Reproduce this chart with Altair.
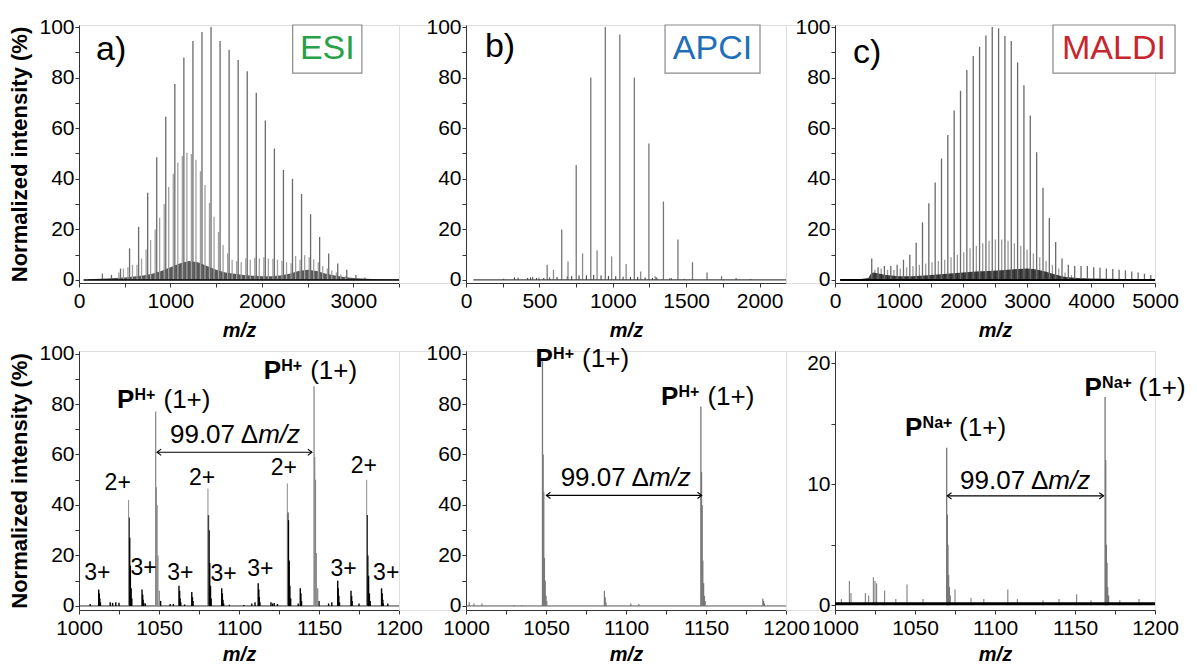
import altair as alt
import pandas as pd

FONT = "Liberation Sans"

# ---------------- top row data (m/z, normalized intensity %) ----------------
a_main_mz = [256, 355, 454, 553, 652, 751, 850, 949, 1048, 1147, 1246, 1345, 1444, 1543, 1642,
             1741, 1840, 1939, 2038, 2137, 2236, 2335, 2434, 2533, 2632, 2731, 2830, 2929, 3028, 3127]
a_main_int = [2.5, 2, 4.5, 12.5, 21, 34.5, 48.5, 64.5, 77.5, 88, 94.5, 98, 100, 94.5, 91,
              87, 82.5, 74, 63, 52, 43.5, 40, 34, 26, 17, 10.5, 6.5, 4, 2, 1]
a_sec_mz = [436, 486, 535, 585, 634, 684, 734, 783, 833, 882, 932, 981, 1031, 1081, 1130, 1180, 1229,
            1279, 1328, 1378, 1427, 1477, 1526, 1576, 1626, 1675, 1725, 1774, 1824, 1873, 1923, 1972,
            2022, 2071, 2121, 2171, 2220, 2270, 2319, 2369, 2418, 2468, 2518, 2567, 2617, 2666, 2716,
            2765, 2815, 2864, 2914]
a_sec_int = [3, 4.5, 5, 6, 6, 8.5, 12, 15.8, 20, 24.6, 30, 36.8, 42, 46.4, 49, 50.3, 49.8,
             47.5, 43, 37.5, 30.5, 25, 19, 13.8, 10.5, 8, 7.5, 7, 8.6, 8, 8.8, 8.5,
             9, 8.5, 8.4, 8, 7.5, 7, 6.6, 9.5, 8, 9.8, 9, 8.2, 7, 5.5, 4.5,
             3.7, 3, 2.2, 1.5]
a_band_mz = [100, 300, 500, 700, 800, 900, 1000, 1100, 1200, 1300, 1400, 1500, 1600, 1700, 1800,
             1900, 2000, 2100, 2200, 2300, 2400, 2500, 2600, 2700, 2800, 2900, 3000, 3200, 3500]
a_band_int = [0.3, 0.6, 1, 1.8, 2.5, 3.5, 5, 6.5, 7.5, 7, 5.5, 4, 3, 2.5, 2,
              1.7, 1.5, 1.5, 1.8, 2.5, 3.5, 4, 3.5, 2.5, 1.8, 1.2, 0.8, 0.4, 0.2]

b_main_mz = [256, 355, 454, 553, 652, 751, 850, 949, 1048, 1147, 1246, 1345, 1444, 1543, 1642, 1741, 1840, 1939]
b_main_int = [0.5, 1, 1.2, 6, 20, 45.5, 80, 100, 97, 80, 54, 31, 16, 7, 3, 1.5, 0.8, 0.4]
b_sec_mz = [497, 596, 695, 794, 893, 992, 1091, 1190, 1289, 1388, 1487]
b_sec_int = [1, 4, 7.3, 10.5, 11.7, 9.3, 6.3, 3.3, 1.5, 0.8, 0.5]
b_minor_mz = [330, 420, 440, 480, 530, 570, 620, 690, 720, 770, 820, 870, 920, 970, 1020, 1070,
              1120, 1170, 1220, 1270, 1300, 1400]
b_minor_int = [1, 0.8, 1, 0.8, 0.8, 1, 1.2, 1.5, 1.5, 1.8, 1.8, 2, 1.8, 1.6, 1.5, 1.3,
               1.2, 1.2, 1, 0.8, 1, 0.6]

c_main_mz = [574, 673, 772, 872, 971, 1070, 1169, 1268, 1367, 1466, 1565, 1664, 1763, 1862, 1961,
             2060, 2160, 2259, 2358, 2457, 2556, 2655, 2754, 2853, 2952, 3051, 3151, 3250, 3349, 3448,
             3547, 3646, 3745, 3844, 3943, 4042, 4141, 4240, 4340, 4439, 4538, 4637, 4736, 4835, 4934]
c_main_int = [8.5, 5, 5.5, 5.5, 6, 8, 10, 14.7, 22.8, 30.3, 38.5, 48, 57.3, 67, 74.8,
              83, 88.5, 92.2, 96.6, 100, 99.5, 96.5, 94.5, 86, 77, 65, 50.5, 36.5, 24.5, 15,
              8.5, 6, 5.5, 5.5, 5.5, 5, 4.8, 4.5, 4.3, 4, 3.8, 3.3, 3, 2.5, 2]
c_sec_mz = [623, 722, 821, 921, 1020, 1119, 1218, 1318, 1417, 1516, 1615, 1714, 1813, 1912, 2011,
            2110, 2209, 2308, 2407, 2506, 2605, 2704, 2803, 2902, 3001, 3100, 3199, 3298, 3397, 3496,
            3595, 3695]
c_sec_int = [4, 4.5, 4, 4, 4.5, 5, 5.5, 6, 6.5, 7, 7.5, 8, 9, 10, 11,
             12.5, 13.5, 14.5, 15.5, 16, 16, 15.5, 14.5, 13.5, 12, 10.5, 9, 7.5, 6, 4.5,
             3, 2]
c_band_mz = [80, 400, 520, 560, 600, 700, 800, 1000, 1200, 1400, 1600, 1800, 2000, 2200, 2400,
             2600, 2800, 3000, 3100, 3200, 3300, 3400, 3500, 3600, 3800, 4000, 4500, 5000]
c_band_int = [0.3, 0.4, 0.8, 2.5, 3, 2.5, 2, 1.5, 1.5, 1.8, 2.2, 2.6, 3, 3.3, 3.5,
              3.8, 4.2, 4.5, 4.3, 3.8, 3.2, 2.5, 1.8, 1.2, 0.8, 0.6, 0.4, 0.3]

# ---------------- bottom row data (zoom 1000-1200) ----------------
d_gray_mz = [1047.9, 1048.3, 1048.8, 1049.3, 1050.2, 1146.9, 1147.3, 1147.8, 1148.3, 1149.2]
d_gray_int = [77, 47, 40, 20, 6, 87, 59, 50, 21, 7]
d_tip_mz = [1031.0, 1080.6, 1130.2, 1179.8]
d_tip_int = [42, 46.5, 48.5, 50]
d_body_mz = [1007, 1012.3, 1012.7, 1013.0, 1013.4, 1019.5, 1021, 1023, 1025,
             1031.3, 1031.7, 1032.1, 1032.6, 1033, 1039.4, 1039.8, 1040.1, 1040.5, 1041.5,
             1051, 1057, 1059, 1062.5, 1062.9, 1063.2, 1063.6, 1066, 1070.5, 1070.9, 1071.3,
             1080.9, 1081.3, 1081.7, 1082.2, 1082.6, 1089.2, 1089.6, 1090, 1090.4, 1094, 1103,
             1108, 1110, 1112, 1112.4, 1112.7, 1113.1, 1120, 1121, 1122, 1124,
             1130.5, 1130.9, 1131.4, 1131.8, 1132.3, 1137, 1138.3, 1138.7, 1139.1, 1150,
             1156, 1158, 1161.7, 1162, 1162.4, 1162.8, 1170, 1170.4, 1170.7, 1175,
             1180.1, 1180.5, 1181, 1181.5, 1182, 1189.1, 1189.5, 1189.9, 1190.2, 1193]
d_body_int = [0.8, 6.5, 5, 3, 1.5, 1.5, 1.2, 1.5, 1.3,
              35, 27, 16, 7, 3, 6.5, 4.5, 2.5, 1.2, 1,
              2, 0.8, 0.8, 8, 6, 3, 1.5, 0.6, 5.5, 3.5, 2,
              36, 30, 17, 8, 3, 7, 5, 2.5, 1, 0.5, 0.4,
              1, 1.5, 9, 6.5, 3.5, 1.5, 1.5, 1, 1.2, 0.8,
              37, 34, 18, 8, 3, 1, 7, 5, 2, 2,
              1, 1.5, 10, 7, 4, 1.5, 6, 4, 2, 1,
              36, 20, 12, 5, 2, 7, 5, 2.5, 1, 1]

e_gray_mz = [1047.8, 1048.2, 1048.6, 1049.0, 1049.5, 1050.0, 1146.8, 1147.2, 1147.6, 1148.0, 1148.5, 1149.0]
e_gray_int = [97, 60, 45, 19, 10, 4, 79, 53, 40, 18, 9, 4]
e_small_mz = [1002, 1005, 1010, 1030, 1035, 1050.5, 1086.5, 1087, 1087.5, 1103, 1108, 1149.5, 1185.5, 1186, 1186.5]
e_small_int = [1.5, 1, 1, 0.4, 0.3, 2, 6, 3.5, 1.5, 1, 0.8, 2, 3, 2, 1]

f_gray_mz = [1069.8, 1070.2, 1070.6, 1071.0, 1071.5, 1072.0, 1168.8, 1169.2, 1169.6, 1170.0, 1170.4, 1171.0]
f_gray_int = [13, 7.5, 5, 2.5, 1.5, 0.8, 17.2, 12, 5, 3.5, 1.5, 0.8]
f_small_mz = [1004, 1009, 1010, 1019, 1021, 1024, 1025, 1026, 1031, 1038, 1045, 1055, 1075, 1085, 1093,
              1108, 1114, 1130, 1140, 1151, 1160, 1178, 1190]
f_small_int = [0.5, 2, 1, 1, 0.8, 2.3, 2, 1.8, 1.2, 0.5, 1.7, 0.5, 1.3, 0.6, 0.5,
               1.3, 0.5, 0.4, 0.5, 0.9, 0.4, 0.4, 0.5]

# ---------------- annotations (data coordinates) ----------------
panel_tags = ["a)", "b)", "c)"]
tag_pos = [(187, 87), (129, 88), (281, 85.8)]
techniques = ["ESI", "APCI", "MALDI"]
tech_colors = ["#27a048", "#1f6fb8", "#c8262d"]
box_x = [(2337, 3094), (1356, 2003), (3406, 5313)]
box_y = (81.8, 100.8)
box_text_pos = [(2716, 91.3), (1679, 91.3), (4359, 91.3)]

d_p_labels = [(1023.75, 78.3), (1115.4, 90.0)]
e_p_labels = [(1043.5, 94.8), (1121.8, 79.6)]
f_p_labels = [(1043.8, 13.97), (1156.0, 17.26)]
d_arrow = (1048.75, 1145.6, 60.9)
e_arrow = (1050.2, 1147.3, 43.8)
f_arrow = (1070.2, 1167.8, 9.03)
d_delta = (1112.0, 64.4)
e_delta = (1114.3, 47.5)
f_delta = (1133.3, 9.57)
d_two_plus = [(1024.2, 46), (1076.9, 48), (1128, 51.9), (1178, 52.6)]
d_three_plus = [(1011.5, 10.4), (1040.4, 12.4), (1063.3, 10.4), (1090.4, 9.8), (1113.3, 11.7),
                (1165.4, 11.7), (1192, 10.4)]

TOP_H = 258
BOT_H = 259
W = 320


def build_panel(xdom, ydom, xvals, xmod, yvals, ymod, ytitle, xtitle_pad):
    xaxis = alt.Axis(values=xvals, format="d",
                     labelExpr=f"datum.value % {xmod} === 0 ? datum.label : ''",
                     title="m/z", titleFont=FONT, titleFontStyle="italic", titleFontWeight="bold",
                     titleFontSize=20, titleColor="black", titlePadding=xtitle_pad,
                     labelFont=FONT, labelFontSize=21, labelColor="black", labelPadding=3,
                     labelFlush=False, labelOverlap=False, tickSize=4, tickColor="#333",
                     domainColor="#333", grid=False)
    yaxis = alt.Axis(values=yvals, format="d",
                     labelExpr=f"datum.value % {ymod} === 0 ? datum.label : ''",
                     title=ytitle if ytitle else None, titleFont=FONT, titleFontWeight="bold",
                     titleFontSize=22, titleColor="black", titlePadding=7,
                     labelFont=FONT, labelFontSize=21, labelColor="black", labelPadding=1,
                     labelOverlap=False, tickSize=4, tickColor="#333", domainColor="#333", grid=False)
    xs = alt.Scale(domain=list(xdom), nice=False, zero=False)
    ys = alt.Scale(domain=list(ydom), nice=False, zero=False)

    def X(f="mz"):
        return alt.X(f"{f}:Q", scale=xs, axis=xaxis)

    def Y(f="I"):
        return alt.Y(f"{f}:Q", scale=ys, axis=yaxis)

    layers = []

    def sticks(mz, inten, color, width, opacity=1.0):
        assert len(mz) == len(inten)
        df = pd.DataFrame({"mz": mz, "I": inten})
        layers.append(alt.Chart(df).mark_rule(color=color, strokeWidth=width, opacity=opacity)
                      .encode(x=X(), y=Y(), y2=alt.datum(0)))

    def band(mz, inten, color, opacity):
        assert len(mz) == len(inten)
        df = pd.DataFrame({"mz": mz, "I": inten})
        layers.append(alt.Chart(df).mark_area(color=color, opacity=opacity, interpolate="linear")
                      .encode(x=X(), y=Y(), y2=alt.datum(0)))

    def baseline(x1, x2, color, width, level=0.0):
        df = pd.DataFrame({"mz": [x1], "mz2": [x2], "I": [level]})
        layers.append(alt.Chart(df).mark_rule(color=color, strokeWidth=width)
                      .encode(x=X(), x2="mz2:Q", y=Y()))

    def text(rows, size, align="left", baseline_="alphabetic", weight="normal", style="normal",
             color="black", dx=0, dy=0):
        df = pd.DataFrame({"mz": [r[0] for r in rows], "I": [r[1] for r in rows],
                           "t": [r[2] for r in rows]})
        layers.append(alt.Chart(df).mark_text(font=FONT, fontSize=size, align=align,
                                              baseline=baseline_, fontWeight=weight,
                                              fontStyle=style, color=color, dx=dx, dy=dy)
                      .encode(x=X(), y=Y(), text="t:N"))

    def box(x1, x2, y1, y2):
        df = pd.DataFrame({"mz": [x1], "mz2": [x2], "I": [y1], "I2": [y2]})
        layers.append(alt.Chart(df).mark_rect(fill="white", stroke="#8a8a8a", strokeWidth=1.2)
                      .encode(x=X(), x2="mz2:Q", y=Y(), y2="I2:Q"))

    def arrow(x1, x2, lvl):
        df = pd.DataFrame({"mz": [x1], "mz2": [x2], "I": [lvl]})
        layers.append(alt.Chart(df).mark_rule(color="black", strokeWidth=1.1)
                      .encode(x=X(), x2="mz2:Q", y=Y()))
        r = pd.DataFrame({"mz": [x2], "I": [lvl]})
        l = pd.DataFrame({"mz": [x1], "I": [lvl]})
        layers.append(alt.Chart(r).mark_point(shape="M-1,-0.75L0,0L-1,0.75", filled=False,
                                              size=70, color="black", strokeWidth=1.1, opacity=1)
                      .encode(x=X(), y=Y()))
        layers.append(alt.Chart(l).mark_point(shape="M1,-0.75L0,0L1,0.75", filled=False,
                                              size=70, color="black", strokeWidth=1.1, opacity=1)
                      .encode(x=X(), y=Y()))

    def p_label(rows, sup):
        text([(r[0], r[1], "P") for r in rows], 26, weight="bold")
        text([(r[0], r[1], sup) for r in rows], 16, weight="bold", dx=17.5, dy=-8)
        off = 46.5 if sup == "H+" else 54
        text([(r[0], r[1], "(1+)") for r in rows], 26, dx=off)

    def delta(pos):
        text([(pos[0], pos[1], "99.07 \u0394")], 26, align="right")
        text([(pos[0], pos[1], "m/z")], 26, align="left", style="italic")

    return layers, sticks, band, baseline, text, box, arrow, p_label, delta


def finish(layers, height):
    return alt.layer(*layers).properties(width=W, height=height)


top_y = (-1.2, 100.8)
top_yvals = list(range(0, 101, 10))
bot_xvals = list(range(1000, 1201, 25))

# ---- panel a ----
L, sticks, band, baseline, text, box, arrow, p_label, delta = build_panel(
    (0, 3500), top_y, list(range(0, 3501, 500)), 1000, top_yvals, 20, "Normalized intensity (%)", 9)
band(a_band_mz, a_band_int, "#111111", 0.7)
sticks(a_sec_mz, a_sec_int, "#a0a0a0", 1.3)
sticks(a_main_mz, a_main_int, "#6a6a6a", 1.3)
baseline(50, 3500, "black", 1.6)
text([(tag_pos[0][0], tag_pos[0][1], panel_tags[0])], 34)
box(box_x[0][0], box_x[0][1], box_y[0], box_y[1])
text([(box_text_pos[0][0], box_text_pos[0][1], techniques[0])], 34, align="center",
     baseline_="middle", color=tech_colors[0])
panel_a = finish(L, TOP_H)

# ---- panel b ----
L, sticks, band, baseline, text, box, arrow, p_label, delta = build_panel(
    (0, 2180), top_y, list(range(0, 2001, 250)), 500, top_yvals, 20, None, 9)
sticks(b_minor_mz, b_minor_int, "#333333", 1.0)
sticks(b_sec_mz, b_sec_int, "#8a8a8a", 1.3)
sticks(b_main_mz, b_main_int, "#777777", 1.3)
baseline(50, 2180, "#444444", 1.2)
text([(tag_pos[1][0], tag_pos[1][1], panel_tags[1])], 34)
box(box_x[1][0], box_x[1][1], box_y[0], box_y[1])
text([(box_text_pos[1][0], box_text_pos[1][1], techniques[1])], 34, align="center",
     baseline_="middle", color=tech_colors[1])
panel_b = finish(L, TOP_H)

# ---- panel c ----
L, sticks, band, baseline, text, box, arrow, p_label, delta = build_panel(
    (0, 5000), top_y, list(range(0, 5001, 500)), 1000, top_yvals, 20, None, 9)
sticks(c_sec_mz, c_sec_int, "#9a9a9a", 1.3)
band(c_band_mz, c_band_int, "#111111", 0.8)
sticks(c_main_mz, c_main_int, "#6a6a6a", 1.3)
baseline(80, 5000, "black", 2.0)
text([(tag_pos[2][0], tag_pos[2][1], panel_tags[2])], 34)
box(box_x[2][0], box_x[2][1], box_y[0], box_y[1])
text([(box_text_pos[2][0], box_text_pos[2][1], techniques[2])], 34, align="center",
     baseline_="middle", color=tech_colors[2])
panel_c = finish(L, TOP_H)

# ---- panel d ----
L, sticks, band, baseline, text, box, arrow, p_label, delta = build_panel(
    (1000, 1200), (-1.6, 101), bot_xvals, 50, top_yvals, 20, "Normalized intensity (%)", 6)
baseline(1000, 1200, "#333333", 1.0)
sticks(d_body_mz, d_body_int, "black", 1.4)
sticks(d_tip_mz, d_tip_int, "#8a8a8a", 1.0)
sticks(d_gray_mz, d_gray_int, "#8a8a8a", 1.3)
p_label(d_p_labels, "H+")
arrow(*d_arrow)
delta(d_delta)
text([(p[0], p[1], "2+") for p in d_two_plus], 23, align="center")
text([(p[0], p[1], "3+") for p in d_three_plus], 23, align="center")
panel_d = finish(L, BOT_H)

# ---- panel e ----
L, sticks, band, baseline, text, box, arrow, p_label, delta = build_panel(
    (1000, 1200), (-1.6, 101), bot_xvals, 50, top_yvals, 20, None, 6)
baseline(1000, 1200, "#555555", 1.0)
sticks(e_small_mz, e_small_int, "#777777", 1.2)
sticks(e_gray_mz, e_gray_int, "#777777", 1.3)
p_label(e_p_labels, "H+")
arrow(*e_arrow)
delta(e_delta)
panel_e = finish(L, BOT_H)

# ---- panel f ----
L, sticks, band, baseline, text, box, arrow, p_label, delta = build_panel(
    (1000, 1200), (-0.4, 21.0), bot_xvals, 50, [0, 5, 10, 15, 20], 10, None, 6)
sticks(f_small_mz, f_small_int, "#888888", 1.2)
sticks(f_gray_mz, f_gray_int, "#777777", 1.3)
baseline(1000, 1200, "black", 3.0, level=0.12)
p_label(f_p_labels, "Na+")
arrow(*f_arrow)
delta(f_delta)
panel_f = finish(L, BOT_H)


def spacer(w, h):
    return (alt.Chart(pd.DataFrame({"v": [0]})).mark_point(opacity=0)
            .encode(x=alt.X("v:Q", axis=None), y=alt.Y("v:Q", axis=None))
            .properties(width=w, height=h))


chart = (alt.concat(panel_a, spacer(67, TOP_H), panel_b, spacer(49, TOP_H), panel_c,
                    panel_d, spacer(67, BOT_H), panel_e, spacer(49, BOT_H), panel_f,
                    columns=5, spacing={"row": 68, "column": 0}, bounds="flush")
         .properties(padding={"left": 8, "top": 15, "right": 5, "bottom": 3}, background="white")
         .configure_view(stroke=None)
         .configure(font=FONT))

chart.save("out.html", embed_options={"renderer": "svg", "actions": False})
